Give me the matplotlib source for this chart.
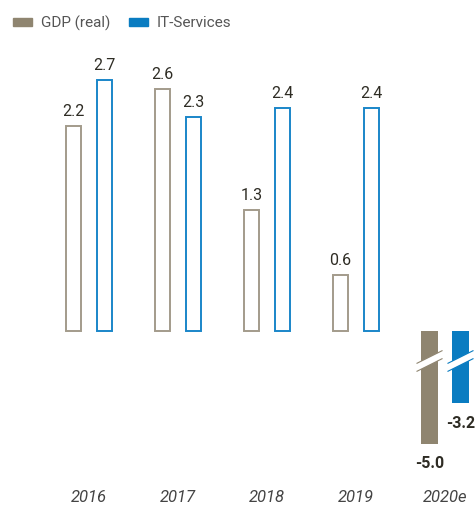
import numpy as np
import matplotlib
matplotlib.use("Agg")
import matplotlib.pyplot as plt
from matplotlib.patches import Rectangle, Polygon

# Wachstum in % gegenüber Vorjahr
years = ["2016", "2017", "2018", "2019", "2020e"]
gdp = [2.2, 2.6, 1.3, 0.6, -5.0]
it_services = [2.7, 2.3, 2.4, 2.4, -3.2]
labels = ["GDP (real)", "IT-Services"]

GDP_COLOR = "#8f8570"
GDP_EDGE = "#a39b8b"
IT_COLOR = "#0a7cc1"
IT_EDGE = "#1a86c9"
TEXT = "#2e2c24"

plt.rcParams["font.family"] = ["Roboto", "DejaVu Sans"]

# negative Werte gestaucht darstellen (Achsenbruch)
k = 4.12


def fwd(y):
    y = np.asarray(y, dtype=float)
    return np.where(y < 0, y / k, y)


def inv(y):
    y = np.asarray(y, dtype=float)
    return np.where(y < 0, y * k, y)


fig = plt.figure(figsize=(4.75, 5.06), dpi=100)
ax = fig.add_axes([0, 0, 1, 1])
ax.set_yscale("function", functions=(fwd, inv))
ax.set_xlim(-1, 4.337)
ax.set_ylim(-1.869 * k, 3.566)
ax.axis("off")

x = np.arange(len(years))
off = 0.174

for i, yr in enumerate(years):
    forecast = yr.endswith("e")
    for val, dx, face, edge in [(gdp[i], -off, GDP_COLOR, GDP_EDGE),
                                (it_services[i], off, IT_COLOR, IT_EDGE)]:
        if forecast:
            ax.bar(x[i] + dx, val, width=0.197, color=face, linewidth=0)
            ax.annotate(f"{val:.1f}", (x[i] + dx, val), xytext=(0, -13.5),
                        textcoords="offset points", ha="center", va="center",
                        fontsize=11.5, fontweight="bold", color=TEXT)
        else:
            ax.bar(x[i] + dx, val, width=0.17, facecolor="white",
                   edgecolor=edge, linewidth=1.4)
            ax.annotate(f"{val:.1f}", (x[i] + dx, val), xytext=(0, 11),
                        textcoords="offset points", ha="center", va="center",
                        fontsize=11.5, color=TEXT)
    ax.text(x[i], 0.016, yr, transform=ax.get_xaxis_transform(),
            ha="center", va="center", fontsize=12, style="italic", color="#444444")

# Bruchzeichen auf den Prognose-Balken
fig.canvas.draw()
to_data = ax.transData.inverted()
last = len(years) - 1
for dx, col in [(-off, GDP_COLOR), (off, IT_COLOR)]:
    cx, cy = ax.transData.transform((x[last] + dx, 0))
    cy -= 30  # Position unterhalb der Nulllinie (Pixel)
    half_w, rise, th = 13, 6.5, 4
    band = [(cx - half_w, cy - rise - th), (cx + half_w, cy + rise - th),
            (cx + half_w, cy + rise + th), (cx - half_w, cy - rise + th)]
    ax.add_patch(Polygon(to_data.transform(band), closed=True,
                         facecolor="white", edgecolor="none", zorder=3))
    for s in (-1, 1):
        line = np.array([(cx - half_w, cy - rise + s * th),
                         (cx + half_w, cy + rise + s * th)])
        d = to_data.transform(line)
        ax.plot(d[:, 0], d[:, 1], color=col, lw=0.8, zorder=4,
                solid_capstyle="butt")

# Legende
for j, (lab, col) in enumerate(zip(labels, [GDP_COLOR, IT_COLOR])):
    x0 = [13, 129][j]
    fig.patches.append(Rectangle((x0 / 475, 1 - 27 / 506), 19 / 475, 8 / 506,
                                 transform=fig.transFigure, color=col))
    fig.text((x0 + 28) / 475, 1 - 23 / 506, lab, ha="left", va="center",
             fontsize=11, color="#555555")

fig.savefig("out.png", dpi=100)
plt.close(fig)
